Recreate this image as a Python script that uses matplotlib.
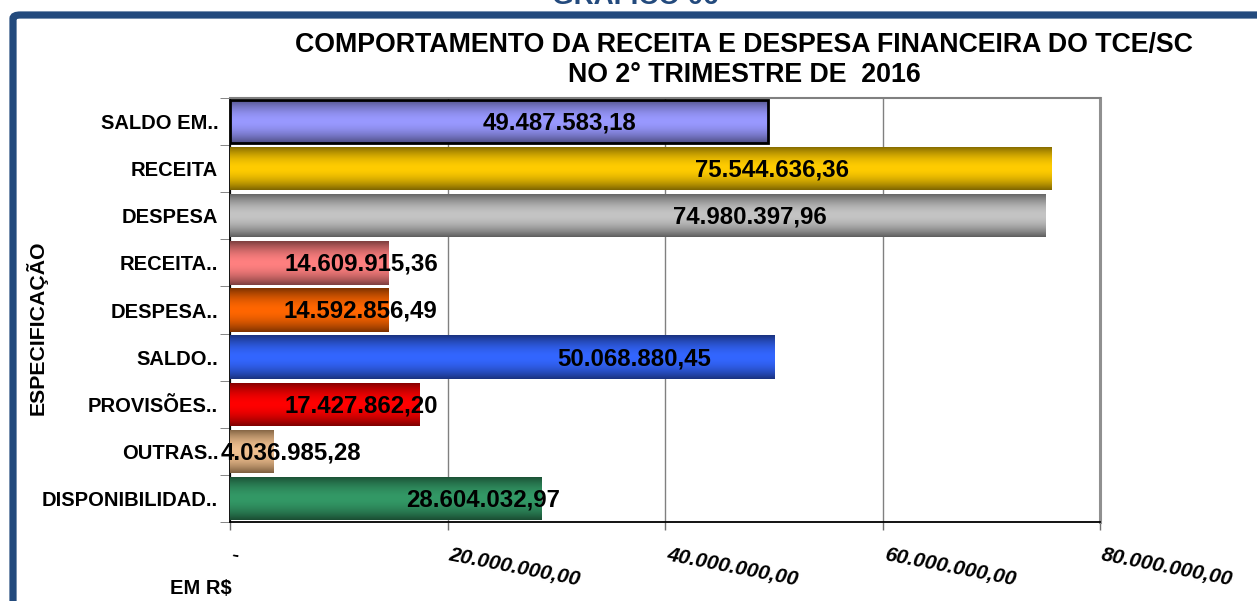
#!/usr/bin/env python3
"""Receita e despesa financeira do TCE/SC - 2o trimestre 2016."""

import matplotlib

matplotlib.use("Agg")
import matplotlib.pyplot as plt
import numpy as np
from matplotlib.colors import LinearSegmentedColormap
from matplotlib.patches import FancyBboxPatch
from matplotlib.ticker import FixedLocator, FuncFormatter

plt.rcParams["font.family"] = ["Liberation Sans", "DejaVu Sans"]
plt.rcParams["font.weight"] = "bold"

categories = [
    "SALDO EM..",
    "RECEITA",
    "DESPESA",
    "RECEITA..",
    "DESPESA..",
    "SALDO..",
    "PROVISÕES..",
    "OUTRAS..",
    "DISPONIBILIDAD..",
]
values = [
    49487583.18,
    75544636.36,
    74980397.96,
    14609915.36,
    14592856.49,
    50068880.45,
    17427862.20,
    4036985.28,
    28604032.97,
]
# (centre colour, edge colour) of each bar's gradient
bar_colors = [
    ("#9999FF", "#4F4F85"),
    ("#FFCC00", "#7F6600"),
    ("#C4C4C4", "#5F5F5F"),
    ("#FF8080", "#7F4040"),
    ("#FF6600", "#7F3300"),
    ("#3366FF", "#1A3380"),
    ("#FF0000", "#7F0000"),
    ("#F0C090", "#7F6040"),
    ("#339966", "#1A4D33"),
]
# where the (hand-placed) value labels sit, in R$
label_x = [30.3e6, 49.8e6, 47.8e6, 12.1e6, 12.0e6, 37.2e6, 12.1e6, 5.6e6, 23.3e6]
x_ticks = [0, 20e6, 40e6, 60e6, 80e6]


def brl(v):
    if v == 0:
        return "-"
    s = f"{v:,.2f}"
    return s.replace(",", "X").replace(".", ",").replace("X", ".")


def main():
    fig = plt.figure(figsize=(12.57, 6.01), dpi=100)
    ax = fig.add_axes([230 / 1257, 1 - 522 / 601, 870 / 1257, 424 / 601])

    # blue frame round the whole chart, partly cut by the image edges
    frame = FancyBboxPatch(
        (13 / 1257, -0.2), 1.2, 1.2 - 15 / 601,
        boxstyle="round,pad=0,rounding_size=0.006",
        transform=fig.transFigure, facecolor="none",
        edgecolor="#234A7D", linewidth=5.2, zorder=0,
    )
    fig.add_artist(frame)
    fig.text(635 / 1257, 1 - 4 / 601, "GRÁFICO 06", color="#234A7D",
             fontsize=20, fontweight="bold", ha="center", va="baseline")

    y = np.arange(len(categories))
    height = 0.92
    bars = ax.barh(y, values, height=height, color=[c[0] for c in bar_colors],
                   zorder=2)

    t = np.linspace(0, 1, 64)
    profile = np.abs(t - 0.5) * 2
    profile = profile ** 1.8
    for bar, (light, dark) in zip(bars, bar_colors):
        cmap = LinearSegmentedColormap.from_list("g", [light, dark])
        x0, y0 = bar.get_x(), bar.get_y()
        w, h = bar.get_width(), bar.get_height()
        img = ax.imshow(profile[:, None], cmap=cmap, vmin=0, vmax=1,
                        extent=[x0, x0 + w, y0 + h, y0], aspect="auto",
                        interpolation="bilinear", zorder=3)
        img.set_clip_path(bar)
    bars[0].set_edgecolor("black")
    bars[0].set_linewidth(2)
    bars[0].set_zorder(4)
    bars[0].set_facecolor("none")

    for yi, v, lx in zip(y, values, label_x):
        ax.text(lx, yi + 0.03, brl(v), ha="center", va="center",
                fontsize=17.3, fontweight="bold", color="black", zorder=6,
                clip_on=False)

    ax.set_xlim(0, 80e6)
    ax.set_ylim(len(categories) - 0.5, -0.5)

    ax.xaxis.set_major_locator(FixedLocator(x_ticks))
    ax.xaxis.set_major_formatter(FuncFormatter(lambda v, p: brl(v)))
    ax.tick_params(axis="x", direction="out", length=6, width=1,
                   color="#707070", pad=10.5)
    for lab in ax.get_xticklabels():
        lab.set_rotation(-11)
        lab.set_ha("left")
        lab.set_va("top")
        lab.set_fontstyle("italic")
        lab.set_fontweight("bold")
        lab.set_fontsize(15)
    ax.grid(axis="x", color="#808080", linewidth=1, zorder=1)
    ax.set_axisbelow(True)

    ax.set_yticks(y)
    ax.set_yticklabels(categories, fontsize=14.5, fontweight="bold")
    ax.yaxis.set_minor_locator(FixedLocator(np.arange(len(categories) + 1) - 0.5))
    ax.tick_params(axis="y", which="major", length=0, pad=8.5)
    ax.tick_params(axis="y", which="minor", direction="out", length=7,
                   color="#707070")

    ax.spines["left"].set_color("black")
    ax.spines["left"].set_linewidth(1.3)
    ax.spines["bottom"].set_color("black")
    ax.spines["bottom"].set_linewidth(1.3)
    ax.spines["top"].set_color("#808080")
    ax.spines["top"].set_linewidth(1.5)
    ax.spines["right"].set_color("#909090")
    ax.spines["right"].set_linewidth(2.2)

    fig.text(744 / 1257, 1 - 52 / 601,
             "COMPORTAMENTO DA RECEITA E DESPESA FINANCEIRA DO TCE/SC",
             ha="center", va="baseline", fontsize=19.3, fontweight="bold")
    fig.text(744 / 1257, 1 - 82 / 601, "NO 2° TRIMESTRE DE  2016",
             ha="center", va="baseline", fontsize=19.3, fontweight="bold")
    fig.text(37 / 1257, 1 - 328 / 601, "ESPECIFICAÇÃO", rotation=90,
             ha="center", va="center", fontsize=15.3, fontweight="bold")
    fig.text(201 / 1257, 1 - 588 / 601, "EM R$", ha="center", va="center",
             fontsize=14.5, fontweight="bold")

    fig.savefig("out.png", dpi=100)
    plt.close(fig)


if __name__ == "__main__":
    main()
